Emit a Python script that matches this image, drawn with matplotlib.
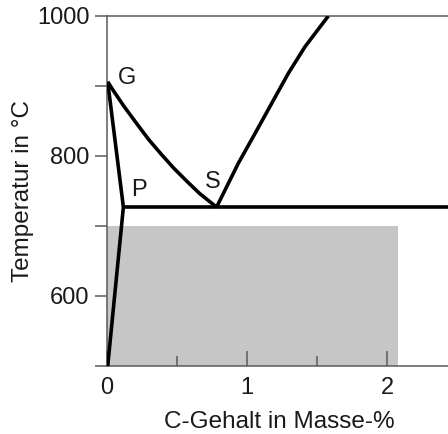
# Fe-C diagram, steel corner: G-S-P lines and eutectoid isotherm with shaded region.
import numpy as np
import matplotlib
matplotlib.use("Agg")
import matplotlib.pyplot as plt

plt.rcParams["font.family"] = ["Liberation Sans", "DejaVu Sans"]

# ---- data (C in mass-%, T in °C) ----
gs_c = [0.005, 0.05, 0.121, 0.217, 0.30, 0.39, 0.48, 0.57, 0.664, 0.783]   # G -> S
gs_t = [906, 892, 871, 845, 823, 802, 782, 764, 746, 727]
se_c = [0.783, 0.938, 1.057, 1.176, 1.295, 1.414, 1.581]                   # S -> E (Acm)
se_t = [727, 789.6, 832, 875, 918, 956, 1000]
gp_c = [0.005, 0.117]                                                      # G -> P
gp_t = [906, 727]
pq_c = [0.117, 0.005]                                                      # P -> Q
pq_t = [727, 500]
psk_t = 727                                                                # P-S-K isotherm
shade_c = [0, 2.08]
shade_t = [500, 700]

labels = [("G", 0.143, 911), ("P", 0.229, 751), ("S", 0.757, 763)]

x_max = 2.436
y_lim = (500, 1000)

# ---- style ----
FS = 17
LW = 2.6
SPINE = "#5a5a5a"
TXT = "#1a1a1a"

fig = plt.figure(figsize=(4.48, 4.34), dpi=100)
ax = fig.add_axes([107 / 448, 68 / 434, 341 / 448, 350 / 434])

ax.fill_between(shade_c, shade_t[0], shade_t[1], color="#c6c6c6", lw=0, zorder=1)

kw = dict(color="black", lw=LW, solid_capstyle="butt", solid_joinstyle="round", zorder=3)
ax.plot(gs_c, gs_t, **kw)
ax.plot(se_c, se_t, **kw)
ax.plot(gp_c + pq_c[1:], gp_t + pq_t[1:], **kw)
ax.plot([gp_c[1], x_max], [psk_t, psk_t], **kw)

for s, x, y in labels:
    ax.text(x, y, s, fontsize=FS, color=TXT, ha="center", va="center", zorder=4)

ax.set_xlim(0, x_max)
ax.set_ylim(*y_lim)

# spines: left/top/bottom only, grey
ax.spines["right"].set_visible(False)
for sp in ["left", "top", "bottom"]:
    ax.spines[sp].set_color(SPINE)
    ax.spines[sp].set_linewidth(1.1)
    ax.spines[sp].set_zorder(2)

# x ticks point inward from the bottom axis
ax.set_xticks([0, 1, 2])
ax.set_xticks([0.5, 1.5], minor=True)
ax.tick_params(axis="x", which="major", direction="in", length=10.8, width=1.1,
               color=SPINE, labelsize=FS, labelcolor=TXT, pad=8, top=False)
ax.tick_params(axis="x", which="minor", direction="in", length=7.2, width=1.1,
               color=SPINE, top=False)

# y ticks point outward, every 100 °C, labelled every 200 °C
ax.set_yticks([600, 800, 1000])
ax.set_yticks([500, 700, 900], minor=True)
ax.tick_params(axis="y", which="both", direction="out", length=8.6, width=1.1,
               color=SPINE, labelsize=FS, labelcolor=TXT, pad=4, right=False)

ax.set_xlabel("C-Gehalt in Masse-%", fontsize=17.5, color=TXT)
ax.xaxis.set_label_coords(0.504, -0.128)
ax.set_ylabel("Temperatur in °C", fontsize=17.5, color=TXT)
ax.yaxis.set_label_coords(-0.215, 0.5)

fig.savefig("out.png", dpi=100)
